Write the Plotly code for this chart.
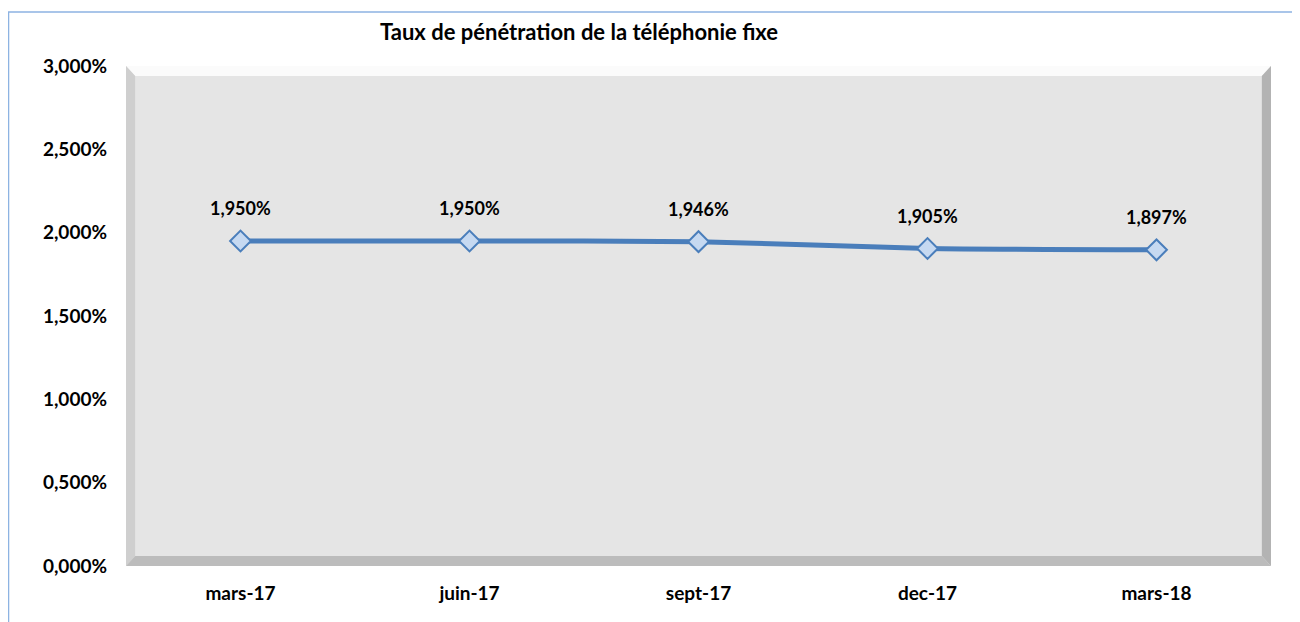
import plotly.graph_objects as go

periods = ["mars-17", "juin-17", "sept-17", "dec-17", "mars-18"]
taux = [1.950, 1.950, 1.946, 1.905, 1.897]
point_labels = ["1,950%", "1,950%", "1,946%", "1,905%", "1,897%"]
y_ticks = [0, 0.5, 1.0, 1.5, 2.0, 2.5, 3.0]
y_tick_labels = ["0,000%", "0,500%", "1,000%", "1,500%", "2,000%", "2,500%", "3,000%"]

FONT = "Lato"
BLUE = "#4a7ebb"

fig = go.Figure()
fig.add_trace(go.Scatter(
    x=periods, y=taux, mode="lines+markers",
    line=dict(color=BLUE, width=5, shape="spline", smoothing=0.6),
    marker=dict(symbol="diamond", size=16, color="#c6d9f1",
                line=dict(color=BLUE, width=2)),
    hoverinfo="skip", showlegend=False,
))

# labels above the points
for p, v, lab in zip(periods, taux, point_labels):
    fig.add_annotation(x=p, y=v, text="<b>%s</b>" % lab, showarrow=False,
                       yshift=33, font=dict(family=FONT, size=18, color="black"))

# bevelled plot area, roughly like the excel one
bx, by = 0.008, 0.02
bevel = [
    ("M 0 1 L 1 1 L %f %f L %f %f Z" % (1 - bx, 1 - by, bx, 1 - by), "#fbfbfb"),
    ("M 0 0 L 0 1 L %f %f L %f %f Z" % (bx, 1 - by, bx, by), "#cfcfcf"),
    ("M 1 0 L 1 1 L %f %f L %f %f Z" % (1 - bx, 1 - by, 1 - bx, by), "#b3b3b3"),
    ("M 0 0 L 1 0 L %f %f L %f %f Z" % (1 - bx, by, bx, by), "#bcbcbc"),
]
for path, col in bevel:
    fig.add_shape(type="path", path=path, xref="paper", yref="paper",
                  fillcolor=col, line=dict(width=0), layer="below")

# outer chart border
fig.add_shape(type="rect", xref="paper", yref="paper",
              x0=-0.1026, x1=1.05, y0=-0.2, y1=1.108,
              line=dict(color="#8db3e2", width=1.5), fillcolor="rgba(0,0,0,0)")

fig.update_layout(
    width=1292, height=614,
    margin=dict(l=118, r=29, t=58, b=56),
    paper_bgcolor="white", plot_bgcolor="#e5e5e5",
    font=dict(family=FONT, size=19, color="black"),
    title=dict(text="<b>Taux de pénétration de la téléphonie fixe</b>",
               x=0.442, xanchor="center", y=0.961, yanchor="middle",
               font=dict(family=FONT, size=22)),
)
fig.update_xaxes(range=[-0.5, 4.5], showgrid=False, zeroline=False,
                 showline=False, ticks="", ticklabelstandoff=14,
                 tickfont=dict(family=FONT, size=19), tickprefix="<b>", ticksuffix="</b>")
fig.update_yaxes(range=[0, 3], tickvals=y_ticks,
                 ticktext=["<b>%s</b>" % t for t in y_tick_labels],
                 showgrid=False, zeroline=False, showline=False, ticks="",
                 ticklabelstandoff=18, tickfont=dict(family=FONT, size=19))

fig.write_html("out.html")
